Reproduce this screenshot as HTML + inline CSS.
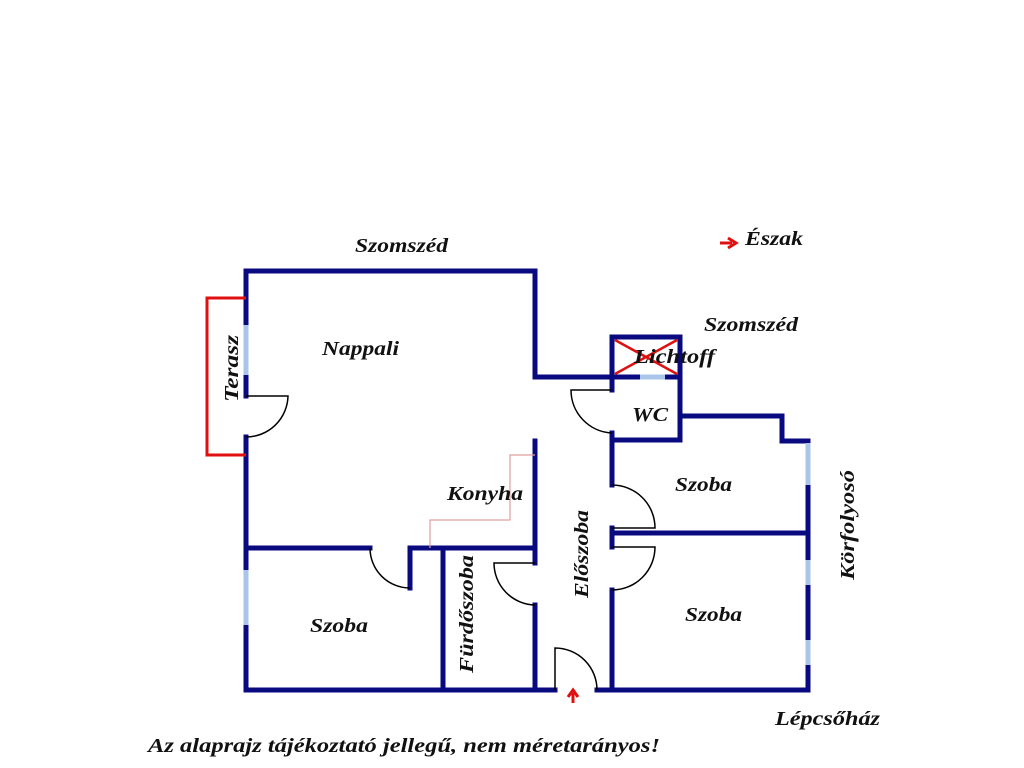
<!DOCTYPE html>
<html><head><style>body{margin:0;background:#fff}svg{display:block}text{font-family:"Liberation Serif",serif;font-weight:bold;font-style:italic;font-size:20px;fill:#111}</style></head>
<body>
<svg width="1024" height="768" viewBox="0 0 1024 768">
<g fill="none" stroke="#0a0a80" stroke-width="5" stroke-linecap="square">
<polyline points="246,271 535,271 535,377 612,377"/>
<line x1="246" y1="271" x2="246" y2="396"/>
<line x1="246" y1="437" x2="246" y2="690"/>
<line x1="535" y1="441" x2="535" y2="563"/>
<line x1="535" y1="605" x2="535" y2="690"/>
<line x1="246" y1="548" x2="370" y2="548"/>
<line x1="410" y1="548" x2="535" y2="548"/>
<line x1="410" y1="548" x2="410" y2="588"/>
<line x1="443" y1="548" x2="443" y2="690"/>
<line x1="246" y1="690" x2="555" y2="690"/>
<line x1="597" y1="690" x2="808" y2="690"/>
<rect x="612" y="337" width="68" height="40"/>
<line x1="612" y1="377" x2="612" y2="390"/>
<line x1="612" y1="433" x2="612" y2="485"/>
<line x1="680" y1="377" x2="680" y2="440"/>
<line x1="612" y1="440" x2="680" y2="440"/>
<polyline points="680,416 782,416 782,441 808,441 808,690"/>
<line x1="612" y1="528" x2="612" y2="547"/>
<line x1="612" y1="533" x2="808" y2="533"/>
<line x1="612" y1="590" x2="612" y2="690"/>
</g>
<g stroke="#a9c6ea" stroke-width="5">
<line x1="246" y1="325" x2="246" y2="375"/>
<line x1="246" y1="570" x2="246" y2="625"/>
<line x1="640" y1="377" x2="665" y2="377"/>
<line x1="808" y1="443" x2="808" y2="485"/>
<line x1="808" y1="560" x2="808" y2="585"/>
<line x1="808" y1="640" x2="808" y2="665"/>
</g>
<g fill="none" stroke="#000" stroke-width="1.5">
<path d="M246,396 L288,396 A42,42 0 0 1 246,437"/>
<path d="M410,588 A40,40 0 0 1 370,548"/>
<path d="M535,563 L494,563 A42,42 0 0 0 535,605"/>
<path d="M555,690 L555,648 A42,42 0 0 1 597,690"/>
<path d="M612,390 L571,390 A43,43 0 0 0 612,433"/>
<path d="M612,485 A43,43 0 0 1 655,528 L612,528"/>
<path d="M612,547 L655,547 A43,43 0 0 1 612,590"/>
</g>
<polyline points="246,298 207,298 207,455 246,455" fill="none" stroke="#e01010" stroke-width="3"/>
<polyline points="535,455 510,455 510,520 430,520 430,548" fill="none" stroke="#e0a0a0" stroke-width="1.2"/>
<g stroke="#e01010" stroke-width="2.5"><line x1="615" y1="340" x2="677" y2="374"/><line x1="677" y1="340" x2="615" y2="374"/></g>
<path d="M720,243 L732,243 M728,238 L736,243 L728,248" stroke="#e01010" stroke-width="3" fill="none"/>
<path d="M573,703 L573,693 M568,697 L573,690 L578,697" stroke="#e01010" stroke-width="3" fill="none"/>
<g lengthAdjust="spacingAndGlyphs">
<text x="355" y="252" textLength="93" lengthAdjust="spacingAndGlyphs">Szomszéd</text>
<text x="745" y="245" textLength="58" lengthAdjust="spacingAndGlyphs">Észak</text>
<text x="704" y="331" textLength="94" lengthAdjust="spacingAndGlyphs">Szomszéd</text>
<text x="634" y="363" textLength="81" lengthAdjust="spacingAndGlyphs">Lichtoff</text>
<text x="322" y="355" textLength="77" lengthAdjust="spacingAndGlyphs">Nappali</text>
<text x="447" y="500" textLength="76" lengthAdjust="spacingAndGlyphs">Konyha</text>
<text x="632" y="421" textLength="36" lengthAdjust="spacingAndGlyphs">WC</text>
<text x="675" y="491" textLength="57" lengthAdjust="spacingAndGlyphs">Szoba</text>
<text x="685" y="621" textLength="57" lengthAdjust="spacingAndGlyphs">Szoba</text>
<text x="310" y="632" textLength="58" lengthAdjust="spacingAndGlyphs">Szoba</text>
<text x="775" y="725" textLength="105" lengthAdjust="spacingAndGlyphs">Lépcsőház</text>
<text x="148" y="752" textLength="512" lengthAdjust="spacingAndGlyphs">Az alaprajz tájékoztató jellegű, nem méretarányos!</text>
<text transform="translate(238,402) rotate(-90)" textLength="67" lengthAdjust="spacingAndGlyphs">Terasz</text>
<text transform="translate(588,598) rotate(-90)" textLength="88" lengthAdjust="spacingAndGlyphs">Előszoba</text>
<text transform="translate(473,673) rotate(-90)" textLength="118" lengthAdjust="spacingAndGlyphs">Fürdőszoba</text>
<text transform="translate(854,580) rotate(-90)" textLength="110" lengthAdjust="spacingAndGlyphs">Körfolyosó</text>
</g>
</svg>
</body></html>
